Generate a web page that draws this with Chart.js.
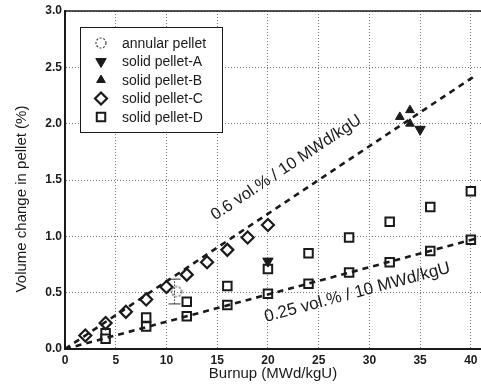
<!DOCTYPE html>
<html>
<head>
<meta charset="utf-8">
<script src="https://cdn.jsdelivr.net/npm/chart.js@4/dist/chart.umd.min.js"></script>
<style>
  html, body { margin: 0; padding: 0; background: #fff; }
  #wrap { width: 481px; height: 384px; }
</style>
</head>
<body>
<div id="wrap"><canvas id="vol"></canvas></div>
<script>
// data (burnup in MWd/kgU, volume change in %)
const annularX = [11];
const annularY = [0.51];
const errX = [10.8, 10.8];
const errY = [0.40, 0.62];
const pelletAX = [20, 35];
const pelletAY = [0.78, 1.95];
const pelletBX = [33, 34, 34];
const pelletBY = [2.06, 2.12, 2.00];
const pelletCX = [2, 4, 6, 8, 10, 12, 14, 16, 18, 20];
const pelletCY = [0.12, 0.23, 0.33, 0.44, 0.55, 0.66, 0.77, 0.88, 0.99, 1.10];
const pelletDX = [4, 4, 8, 8, 12, 12, 16, 16, 20, 20, 24, 24, 28, 28, 32, 32, 36, 36, 40, 40];
const pelletDY = [0.14, 0.09, 0.28, 0.20, 0.42, 0.29, 0.56, 0.39, 0.71, 0.49, 0.85, 0.58, 0.99, 0.68, 1.13, 0.77, 1.26, 0.87, 1.40, 0.97];
const fitX = [0, 40.5];
const fitHigh = [0, 2.43];
const fitLow = [0, 0.98];
const xTicks = [0, 5, 10, 15, 20, 25, 30, 35, 40];
const legendLabels = ["annular pellet", "solid pellet-A", "solid pellet-B", "solid pellet-C", "solid pellet-D"];

const ink = "#1a1a1a";
const font = "'Liberation Sans', Arial, sans-serif";

function pts(xs, ys) {
  return xs.map(function (x, i) { return { x: x, y: ys[i] }; });
}

// dashed open circle for the annular pellet
const ring = document.createElement("canvas");
ring.width = 14; ring.height = 14;
(function () {
  const c = ring.getContext("2d");
  c.strokeStyle = "#444";
  c.lineWidth = 1.2;
  c.setLineDash([2, 1.6]);
  c.beginPath();
  c.arc(7, 7, 5, 0, Math.PI * 2);
  c.stroke();
})();

const markers = [
  { pointStyle: ring, radius: 7, rotation: 0, borderWidth: 0, fill: false },
  { pointStyle: "triangle", radius: 6, rotation: 180, borderWidth: 1, fill: true },
  { pointStyle: "triangle", radius: 5, rotation: 0, borderWidth: 1, fill: true },
  { pointStyle: "rectRot", radius: 6, rotation: 0, borderWidth: 2.2, fill: false },
  { pointStyle: "rect", radius: 6, rotation: 0, borderWidth: 2, fill: false }
];

function scatterSet(label, data, m) {
  return {
    label: label,
    data: data,
    pointStyle: m.pointStyle,
    pointRadius: m.radius,
    pointRotation: m.rotation,
    pointBorderWidth: m.borderWidth,
    borderColor: ink,
    backgroundColor: m.fill ? ink : "#fff",
    showLine: false
  };
}

const decor = {
  id: "decor",
  afterDraw(chart) {
    const ctx = chart.ctx;
    const a = chart.chartArea;
    const xs = chart.scales.x, ys = chart.scales.y;
    ctx.save();

    // top frame line
    ctx.strokeStyle = ink;
    ctx.lineWidth = 1.5;
    ctx.beginPath();
    ctx.moveTo(a.left, a.top);
    ctx.lineTo(a.right, a.top);
    ctx.stroke();

    // sloped labels along the fit lines
    function slopeText(txt, x0, y0, fitY, size) {
      const ang = Math.atan2(ys.getPixelForValue(fitY[1]) - ys.getPixelForValue(fitY[0]),
        xs.getPixelForValue(fitX[1]) - xs.getPixelForValue(fitX[0]));
      ctx.save();
      ctx.translate(xs.getPixelForValue(x0), ys.getPixelForValue(y0));
      ctx.rotate(ang);
      ctx.fillStyle = ink;
      ctx.font = size + "px " + font;
      ctx.textAlign = "left";
      ctx.textBaseline = "alphabetic";
      ctx.fillText(txt, 0, 0);
      ctx.restore();
    }
    slopeText("0.6 vol.% / 10 MWd/kgU", 14.8, 1.14, fitHigh, 16.5);
    slopeText("0.25 vol.% / 10 MWd/kgU", 19.8, 0.24, fitLow, 17);

    // axis titles
    ctx.fillStyle = ink;
    ctx.font = "15px " + font;
    ctx.textAlign = "center";
    ctx.textBaseline = "middle";
    ctx.fillText("Burnup (MWd/kgU)", 273, 374);
    ctx.save();
    ctx.translate(22, 199);
    ctx.rotate(-Math.PI / 2);
    ctx.fillText("Volume change in pellet (%)", 0, 0);
    ctx.restore();

    // boxed legend inside the plot
    const bx = a.left + 15, by = a.top + 16, bw = 142, bh = 105;
    ctx.fillStyle = "#fff";
    ctx.fillRect(bx, by, bw, bh);
    ctx.strokeStyle = ink;
    ctx.lineWidth = 1;
    ctx.strokeRect(bx + 0.5, by + 0.5, bw, bh);
    ctx.font = "14px " + font;
    ctx.textAlign = "left";
    ctx.textBaseline = "middle";
    legendLabels.forEach(function (lab, i) {
      const cy = by + 16 + i * 18.5;
      const m = markers[i];
      ctx.fillStyle = m.fill ? ink : "#fff";
      ctx.strokeStyle = ink;
      ctx.lineWidth = m.borderWidth;
      Chart.helpers.drawPoint(ctx, {
        pointStyle: m.pointStyle, radius: m.radius, rotation: m.rotation, borderWidth: m.borderWidth
      }, bx + 21, cy);
      ctx.fillStyle = ink;
      ctx.fillText(lab, bx + 42, cy + 1);
    });
    ctx.restore();
  }
};

new Chart(document.getElementById("vol").getContext("2d"), {
  type: "scatter",
  data: {
    datasets: [
      {
        label: "fit high",
        data: pts(fitX, fitHigh),
        showLine: true,
        borderColor: ink,
        borderWidth: 2.6,
        borderDash: [6, 5],
        pointRadius: 0
      },
      {
        label: "fit low",
        data: pts(fitX, fitLow),
        showLine: true,
        borderColor: ink,
        borderWidth: 2.6,
        borderDash: [6, 5],
        pointRadius: 0
      },
      {
        label: "error",
        data: pts(errX, errY),
        showLine: true,
        borderColor: "#333",
        borderWidth: 1,
        borderDash: [1.5, 1.5],
        pointStyle: "line",
        pointRadius: 6,
        pointBorderWidth: 1,
        pointBorderColor: "#333"
      },
      scatterSet(legendLabels[0], pts(annularX, annularY), markers[0]),
      scatterSet(legendLabels[1], pts(pelletAX, pelletAY), markers[1]),
      scatterSet(legendLabels[2], pts(pelletBX, pelletBY), markers[2]),
      scatterSet(legendLabels[3], pts(pelletCX, pelletCY), markers[3]),
      scatterSet(legendLabels[4], pts(pelletDX, pelletDY), markers[4])
    ]
  },
  options: {
    responsive: true,
    maintainAspectRatio: false,
    animation: false,
    layout: { autoPadding: false, padding: { top: 11, right: 0, left: 0, bottom: 0 } },
    plugins: {
      legend: { display: false },
      tooltip: { enabled: false }
    },
    scales: {
      x: {
        type: "linear",
        min: 0,
        max: 41,
        afterFit: function (s) { s.height = 35; s.paddingLeft = 0; s.paddingRight = 0; },
        afterBuildTicks: function (s) { s.ticks = xTicks.map(function (v) { return { value: v }; }); },
        grid: { color: "#777", lineWidth: 1, drawTicks: false },
        border: { color: ink, width: 2, dash: [1, 2] },
        ticks: {
          color: ink,
          padding: 4,
          font: { family: font, size: 12, weight: "bold" }
        }
      },
      y: {
        min: 0,
        max: 3,
        afterFit: function (s) { s.width = 65; s.paddingTop = 0; s.paddingBottom = 0; },
        grid: { color: "#777", lineWidth: 1, drawTicks: false },
        border: { color: ink, width: 2, dash: [1, 2] },
        ticks: {
          stepSize: 0.5,
          color: ink,
          padding: 3,
          font: { family: font, size: 12, weight: "bold" },
          callback: function (v) { return v.toFixed(1); }
        }
      }
    }
  },
  plugins: [decor]
});
</script>
</body>
</html>
